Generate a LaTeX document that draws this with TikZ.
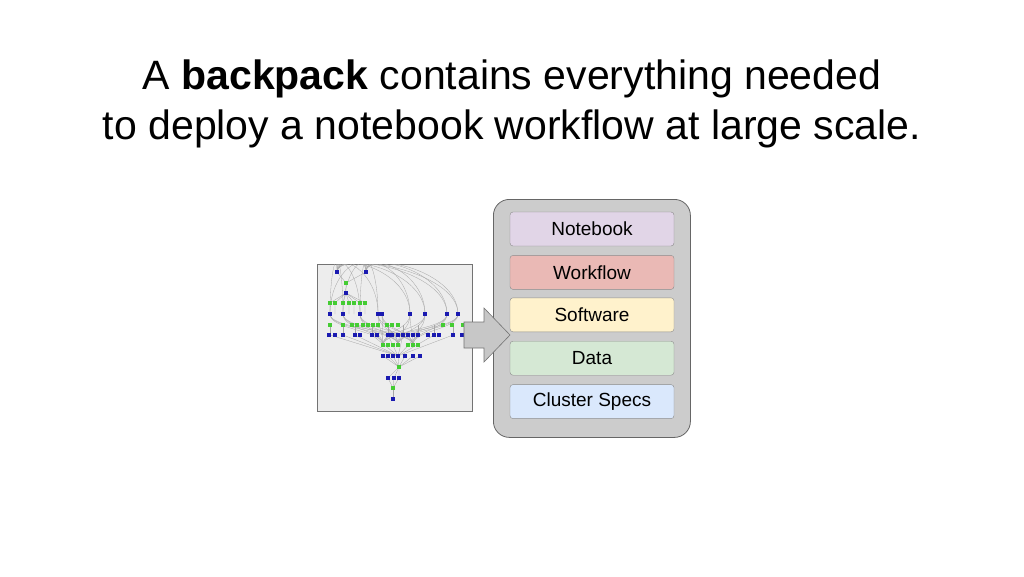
\documentclass[tikz,border=0pt]{standalone}
\usepackage{fontspec}
\setmainfont{Liberation Sans}
\usetikzlibrary{positioning}
\definecolor{packgray}{HTML}{CCCCCC}
\definecolor{nbcol}{HTML}{E1D5E7}
\definecolor{wfcol}{HTML}{EAB9B5}
\definecolor{swcol}{HTML}{FFF2CC}
\definecolor{dacol}{HTML}{D5E8D4}
\definecolor{cscol}{HTML}{DAE8FC}
\definecolor{taskblue}{HTML}{1A1AB0}
\definecolor{filegreen}{HTML}{44CC33}
\tikzset{
    % layer inside the backpack
    layer/.style={draw=black!45, rounded corners=3pt, minimum width=164pt,
        minimum height=34pt, font=\fontsize{19}{22}\selectfont},
    % graph nodes
    task/.style={fill=taskblue, inner sep=0, minimum width=4.5pt, minimum height=3.5pt},
    file/.style={fill=filegreen, inner sep=0, minimum width=4pt, minimum height=4pt},
    edge line/.style={draw=black!35, line width=0.3pt}}
\begin{document}
\begin{tikzpicture}[x=1pt, y=-1pt]
\useasboundingbox (0,0) rectangle (1024,576);

% title
\node[font=\fontsize{41}{50}\selectfont, align=center] (title) at (512,104)
    {A \textbf{backpack} contains everything needed\\
     to deploy a notebook workflow at large scale.};

% workflow graph picture
\node[draw=black!55, fill=black!7, minimum width=155pt, minimum height=147pt,
    inner sep=0, anchor=north west] (graph) at (317,264) {};

\begin{scope}
\clip (317,264) rectangle (472,411);
\foreach \x in {337,366} {
    \foreach \tx in {330,343,360,378,410,425,447,458}
        \draw[edge line] (\x,272) .. controls (\x,250) and (\tx,270) .. (\tx,314);
}
\foreach \x in {330,343,360,378,382,410,425,447,458} {
    \foreach \tx in {383,398,413}
        \draw[edge line] (\x,314) .. controls (\x,330) and (\tx,330) .. (\tx,345);
}
\foreach \x in {330,343,355,372,388,403,418,434,453} {
    \draw[edge line] (\x,325) -- (\x,335);
    \draw[edge line] (\x,335) -- (398,356);
}
\foreach \x in {383,388,393,398,405,413,420}
    \draw[edge line] (\x,356) -- (399,367);
\foreach \x in {330,335,343,349,354,360,365}
    \draw[edge line] (346,293) -- (\x,303) -- (\x,314);
\draw[edge line] (337,272) -- (346,283) -- (346,293);
\draw[edge line] (366,272) -- (346,283);
\foreach \x in {388,394,399}
    \draw[edge line] (399,367) -- (\x,378) -- (393,388);
\draw[edge line] (393,388) -- (393,399);

\foreach \x in {337,366} \node[task] at (\x,272) {};
\node[file] at (346,283) {};
\node[task] at (346,293) {};
\foreach \x in {330,335,343,349,354,360,365} \node[file] at (\x,303) {};
\foreach \x in {330,343,360,378,382,410,425,447,458} \node[task] at (\x,314) {};
\foreach \x in {330,343,352,357,363,368,373,378,387,392,398,443,452,463}
    \node[file] at (\x,325) {};
\foreach \x in {329,335,343,355,360,372,377,388,392,398,403,408,413,418,428,434,439,453,462}
    \node[task] at (\x,335) {};
\foreach \x in {383,388,393,398,408,413,418} \node[file] at (\x,345) {};
\foreach \x in {383,388,393,398,405,413,420} \node[task] at (\x,356) {};
\node[file] at (399,367) {};
\foreach \x in {388,394,399} \node[task] at (\x,378) {};
\node[file] at (393,388) {};
\node[task] at (393,399) {};
\end{scope}

% backpack
\node[draw=black!60, fill=packgray, rounded corners=16pt, minimum width=197pt,
    minimum height=238pt, inner sep=0, anchor=north west, line width=0.8pt]
    (backpack) at (493,199) {};

% big arrow into the backpack
\draw[draw=black!55, fill=black!22, line width=0.6pt]
    (464,322) -- (484,322) -- (484,308) -- (510,335) -- (484,362)
    -- (484,348) -- (464,348) -- cycle;

% layers
\node[layer, fill=nbcol] (notebook) at (592,229) {Notebook};
\node[layer, fill=wfcol, below=9pt of notebook] (workflow) {Workflow};
\node[layer, fill=swcol, below=8pt of workflow] (software) {Software};
\node[layer, fill=dacol, below=9pt of software] (data) {Data};
\node[layer, fill=cscol, below=9pt of data] (cluster) {Cluster Specs};

\end{tikzpicture}
\end{document}
